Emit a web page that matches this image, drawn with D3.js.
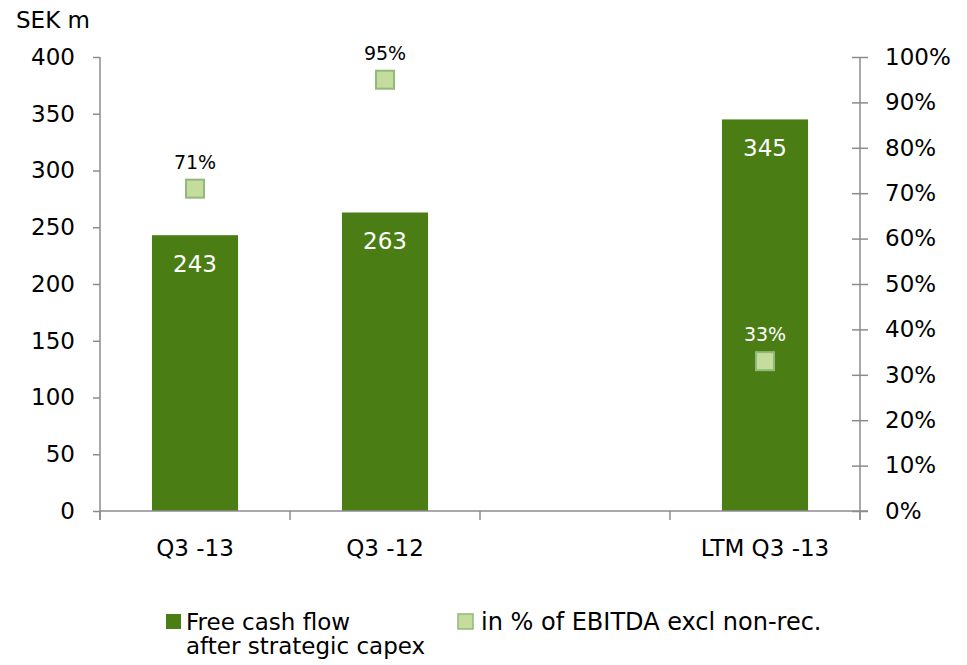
<!DOCTYPE html>
<html><head><meta charset="utf-8">
<script src="https://cdn.jsdelivr.net/npm/d3@7"></script>
<style>body{margin:0;background:#fff}svg{display:block}</style>
</head><body>
<svg id="c" width="967" height="665"></svg>
<script>
const categories = ["Q3 -13", "Q3 -12", "", "LTM Q3 -13"];
const fcfValues = [243, 263, null, 345];
const pctValues = [71, 95, null, 33];
const leftTicks = [0, 50, 100, 150, 200, 250, 300, 350, 400];
const rightTicks = [0, 10, 20, 30, 40, 50, 60, 70, 80, 90, 100];
const seriesNames = ["Free cash flow|after strategic capex", "in % of EBITDA excl non-rec."];

const svg = d3.select("#c");
const L = 100, R = 860, T = 57, B = 511;
const font = "DejaVu Sans";
const axisCol = "#8c8c8c";
const barCol = "#4a7e14";
const mFill = "#c4dc9c", mStroke = "#93b87c";

const x = d3.scaleBand().domain(d3.range(categories.length)).range([L, R]).paddingInner(0.547).paddingOuter(0.2735);
const y = d3.scaleLinear().domain([0, 400]).range([B, T]);
const y2 = d3.scaleLinear().domain([0, 100]).range([B, T]);

// bars
svg.selectAll("rect.bar").data(fcfValues.map((v,i)=>({v,i})).filter(d=>d.v!=null)).enter()
  .append("rect").attr("class","bar")
  .attr("x", d=>x(d.i)).attr("width", x.bandwidth())
  .attr("y", d=>y(d.v)).attr("height", d=>B-y(d.v))
  .attr("fill", barCol);

// left axis
const gl = svg.append("g").attr("transform", `translate(${L},0)`)
  .call(d3.axisLeft(y).tickValues(leftTicks).tickSize(7).tickPadding(18).tickSizeOuter(0));
// right axis
const gr = svg.append("g").attr("transform", `translate(${R},0)`)
  .call(d3.axisRight(y2).tickValues(rightTicks).tickSize(8).tickPadding(17).tickFormat(d=>d+"%").tickSizeOuter(0));
gr.selectAll(".tick line").attr("x1", -8);
// bottom axis
const gb = svg.append("g").attr("transform", `translate(0,${B})`);
gb.append("line").attr("x1", L).attr("x2", R+8).attr("stroke", axisCol).attr("stroke-width",1.5);
const bnds = d3.range(categories.length+1).map(i=>L + i*x.step());
gb.selectAll("line.t").data(bnds).enter().append("line").attr("class","t")
  .attr("x1", d=>d).attr("x2", d=>d).attr("y1",0).attr("y2",9).attr("stroke", axisCol).attr("stroke-width",1.5);
gb.selectAll("text").data(categories.map((c,i)=>({c,i}))).enter().append("text")
  .attr("x", d=>x(d.i)+x.bandwidth()/2).attr("y", 45).attr("text-anchor","middle")
  .attr("font-family", font).attr("font-size", 23).attr("fill","#000").text(d=>d.c);

[gl, gr].forEach(g=>{
  g.select(".domain").attr("stroke", axisCol).attr("stroke-width",1.5);
  g.selectAll(".tick line").attr("stroke", axisCol).attr("stroke-width",1.5);
  g.selectAll(".tick text").attr("font-family", font).attr("font-size", 23).attr("fill","#000");
});
gl.select(".domain").attr("d", `M0,${T}V${B+9}`);
gr.select(".domain").attr("d", `M0,${T}V${B+9}`);

// bar labels
svg.selectAll("text.bl").data(fcfValues.map((v,i)=>({v,i})).filter(d=>d.v!=null)).enter()
  .append("text").attr("class","bl")
  .attr("x", d=>x(d.i)+x.bandwidth()/2).attr("y", d=>y(d.v)+37)
  .attr("text-anchor","middle").attr("font-family", font).attr("font-size", 23).attr("fill","#fff")
  .text(d=>d.v);

// markers
const ms = 18;
const pts = pctValues.map((v,i)=>({v,i})).filter(d=>d.v!=null);
svg.selectAll("rect.m").data(pts).enter().append("rect").attr("class","m")
  .attr("x", d=>x(d.i)+x.bandwidth()/2-ms/2).attr("y", d=>y2(d.v)-ms/2)
  .attr("width", ms).attr("height", ms).attr("fill", mFill).attr("stroke", mStroke).attr("stroke-width",2);
svg.selectAll("text.pl").data(pts).enter().append("text").attr("class","pl")
  .attr("x", d=>x(d.i)+x.bandwidth()/2).attr("y", d=>y2(d.v)-20)
  .attr("text-anchor","middle").attr("font-family", font).attr("font-size", 19)
  .attr("fill", d=>(fcfValues[d.i]!=null && y(fcfValues[d.i]) < y2(d.v)-30) ? "#fff" : "#000")
  .text(d=>d.v+"%");

// title
svg.append("text").attr("x", 16).attr("y", 28).attr("font-family", font).attr("font-size", 23).text("SEK m");

// legend
const lg = svg.append("g");
lg.append("rect").attr("x",166).attr("y",614).attr("width",15).attr("height",15).attr("fill",barCol);
const t1 = lg.append("text").attr("x",186).attr("y",630).attr("font-family",font).attr("font-size",23);
seriesNames[0].split("|").forEach((s,i)=>t1.append("tspan").attr("x",186).attr("dy", i?24:0).text(s));
lg.append("rect").attr("x",458).attr("y",614).attr("width",15).attr("height",15).attr("fill",mFill).attr("stroke",mStroke).attr("stroke-width",1.5);
lg.append("text").attr("x",481).attr("y",630).attr("font-family",font).attr("font-size",24).text(seriesNames[1]);
</script>
</body></html>
